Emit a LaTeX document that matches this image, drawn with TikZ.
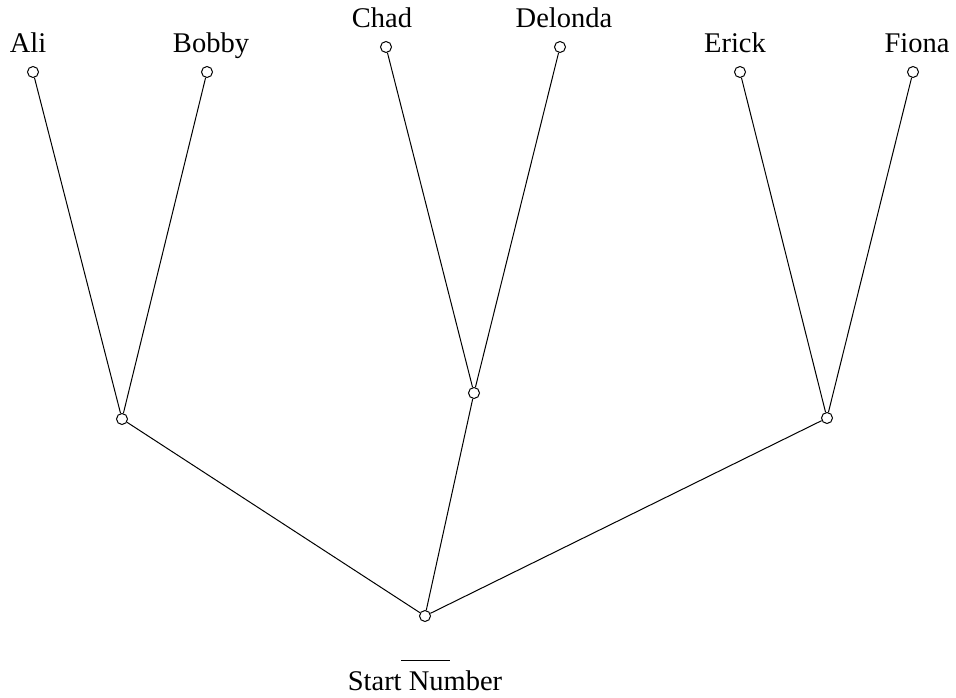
\documentclass[tikz,border=0pt]{standalone}
\usepackage{fontspec}
\setmainfont{Liberation Serif}
\begin{document}
\begin{tikzpicture}[x=1pt,y=-1pt,
  vert/.style={circle,draw,line width=1pt,minimum size=11pt,inner sep=0pt},
  lbl/.style={anchor=base,inner sep=0pt,font=\fontsize{28.5}{30}\selectfont},
  edge/.style={line width=1pt}]
\useasboundingbox (0,0) rectangle (956,698);
\node[vert] (a) at (33,72) {};
\node[vert] (b) at (207,72) {};
\node[vert] (c) at (386,47) {};
\node[vert] (d) at (560,47) {};
\node[vert] (e) at (740,72) {};
\node[vert] (f) at (913,72) {};
\node[vert] (l) at (122,419) {};
\node[vert] (m) at (474,393) {};
\node[vert] (r) at (827,418) {};
\node[vert] (root) at (425,616) {};
\node[lbl] (ta) at (28,53) {Ali};
\node[lbl] (tb) at (211,53) {Bobby};
\node[lbl] (tc) at (382,28) {Chad};
\node[lbl] (td) at (564,28) {Delonda};
\node[lbl] (te) at (735,53) {Erick};
\node[lbl] (tf) at (917,53) {Fiona};
\node[lbl] (start) at (425,690) {Start Number};
\coordinate (s1) at (401,660);
\coordinate (s2) at (450,660);
\draw[edge] (s1) -- (s2);
\draw[edge] (a) -- (l);
\draw[edge] (b) -- (l);
\draw[edge] (c) -- (m);
\draw[edge] (d) -- (m);
\draw[edge] (e) -- (r);
\draw[edge] (f) -- (r);
\draw[edge] (l) -- (root);
\draw[edge] (m) -- (root);
\draw[edge] (r) -- (root);
\end{tikzpicture}
\end{document}
